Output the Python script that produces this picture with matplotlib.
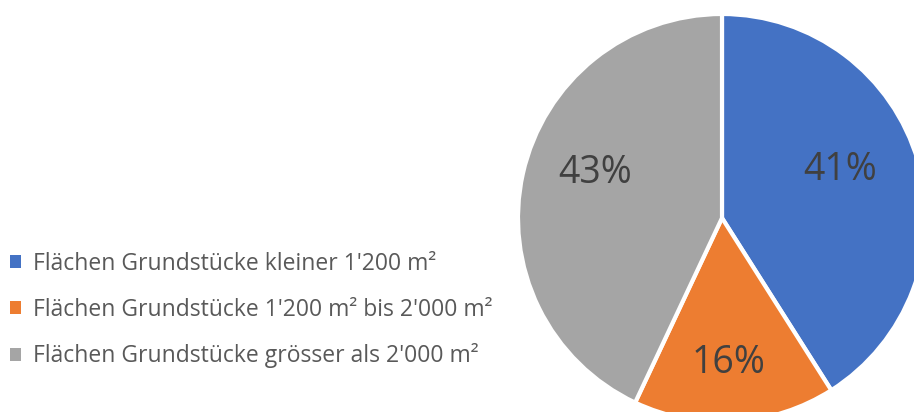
import matplotlib.pyplot as plt
import numpy as np

labels = ["Flächen Grundstücke kleiner 1'200 m²",
          "Flächen Grundstücke 1'200 m² bis 2'000 m²",
          "Flächen Grundstücke grösser als 2'000 m²"]
shares = [41, 16, 43]
colors = ['#4472C4', '#ED7D31', '#A5A5A5']

# where the percentage labels sit (Excel best fit), relative to wedge middle
label_dist = [0.625, 0.71, 0.66]
label_turn = [6, -1, -7]  # degrees

plt.rcParams['font.family'] = ['Open Sans', 'DejaVu Sans']

fig = plt.figure(figsize=(9.14, 4.12), dpi=100)

# pie is bigger than the picture, cut at right and bottom
W, H = 914, 412
cx, cy, r = 722, 218, 204
ax = fig.add_axes([(cx - r) / W, (H - cy - r) / H, 2 * r / W, 2 * r / H])

wedges, texts, autotexts = ax.pie(
    shares, colors=colors, startangle=90, counterclock=False,
    autopct='%1.0f%%', pctdistance=0.65,
    wedgeprops=dict(edgecolor='white', linewidth=3),
    textprops=dict(fontsize=27, color='#404040'))
for w, t, d, turn in zip(wedges, autotexts, label_dist, label_turn):
    a = np.deg2rad((w.theta1 + w.theta2) / 2 + turn)
    t.set_position((d * np.cos(a), d * np.sin(a)))
ax.set_xlim(-1, 1)
ax.set_ylim(-1, 1)
ax.set_aspect('auto')
ax.axis('off')

fig.legend(wedges, labels, loc='center left', bbox_to_anchor=(10 / W, 1 - 310 / H),
           frameon=False, fontsize=16.5, labelcolor='#595959',
           handlelength=0.5, handleheight=0.5, handletextpad=0.5,
           labelspacing=0.95, borderpad=0, borderaxespad=0)
for h in fig.legends[0].legend_handles:
    h.set_linewidth(0)

fig.savefig('out.png', dpi=100)
